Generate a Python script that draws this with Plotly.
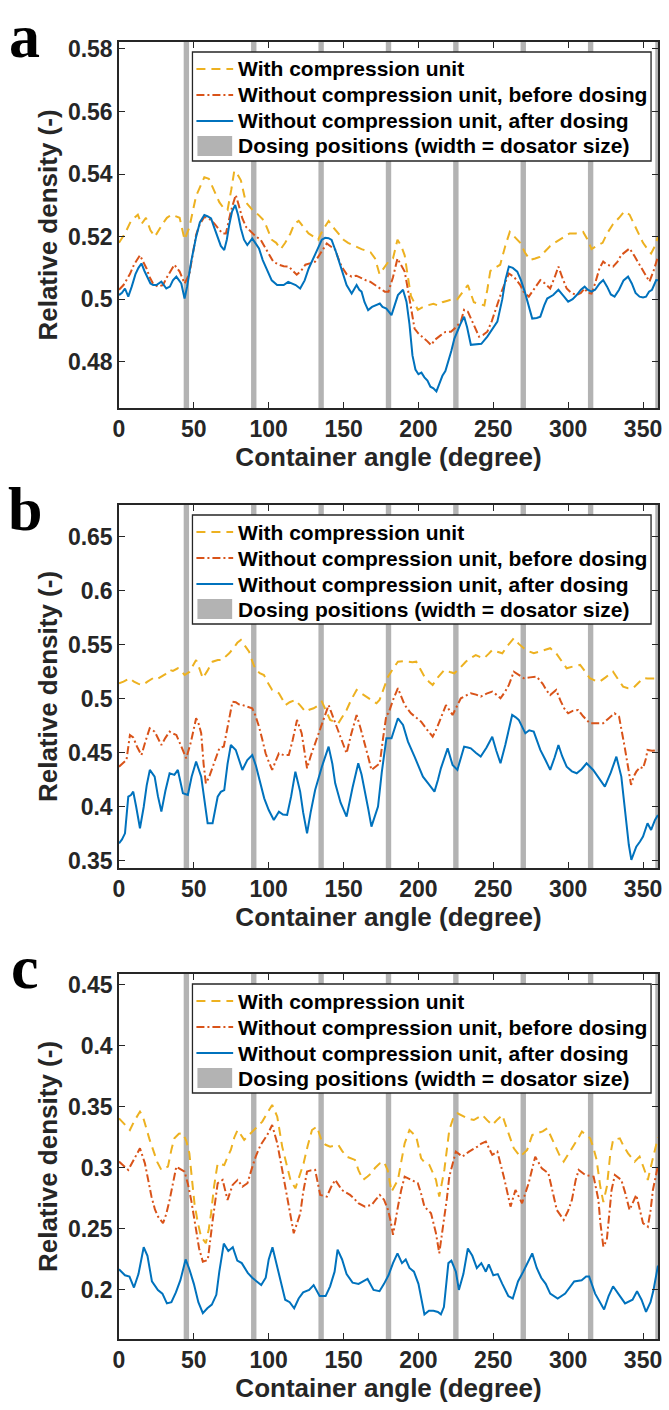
import plotly.graph_objects as go

# ---------------- data ----------------
DOSING_POSITIONS = [45, 90, 135, 180, 225, 270, 315, 360]
DOSATOR_WIDTH = 3.6  # degrees

SERIES_NAMES = ["With compression unit",
                "Without compression unit, before dosing",
                "Without compression unit, after dosing"]
BAND_NAME = "Dosing positions (width = dosator size)"
X_TICKS = [0, 50, 100, 150, 200, 250, 300, 350]
X_TITLE = "Container angle (degree)"
Y_TITLE = "Relative density (-)"
PANEL_LETTERS = ["a", "b", "c"]

A_Y_TICKS = [0.48, 0.5, 0.52, 0.54, 0.56, 0.58]
A_Y_LABELS = ["0.48", "0.5", "0.52", "0.54", "0.56", "0.58"]
B_Y_TICKS = [0.35, 0.4, 0.45, 0.5, 0.55, 0.6, 0.65]
B_Y_LABELS = ["0.35", "0.4", "0.45", "0.5", "0.55", "0.6", "0.65"]
C_Y_TICKS = [0.2, 0.25, 0.3, 0.35, 0.4, 0.45]
C_Y_LABELS = ["0.2", "0.25", "0.3", "0.35", "0.4", "0.45"]

# ---- panel a ----
A_ANG_WITH = [0, 4, 8, 12.6, 15, 18, 21, 24, 29, 32, 35, 40.5, 43.8, 47, 51.5, 54, 57, 60, 62.5, 67, 70, 72.5, 75, 77, 79, 81.4, 84.7, 90, 93, 97, 102, 105, 108, 111, 114.5, 117, 120, 123, 126.6, 130, 133, 136, 140, 143, 146.5, 150, 153, 157, 162, 165, 168, 171, 174, 177, 180, 183, 186, 188.5, 190.8, 193, 195, 199.6, 203, 206, 210, 213, 216, 219.5, 223, 226, 229, 233, 237, 240, 244, 246, 248, 251, 254.6, 258, 261, 264, 268, 271, 274.5, 278, 281, 284, 288, 291, 294.4, 298, 301, 305, 310, 313, 315.6, 319, 323, 326, 330, 334, 337.5, 341, 344, 347, 350, 353, 355.4, 358, 360]
A_VAL_WITH = [0.518, 0.521, 0.525, 0.527, 0.524, 0.526, 0.522, 0.520, 0.524, 0.526, 0.527, 0.526, 0.519, 0.523, 0.533, 0.536, 0.539, 0.5385, 0.536, 0.531, 0.529, 0.5285, 0.535, 0.541, 0.540, 0.538, 0.531, 0.528, 0.527, 0.525, 0.519, 0.518, 0.516, 0.518, 0.521, 0.524, 0.525, 0.523, 0.521, 0.520, 0.519, 0.522, 0.525, 0.523, 0.521, 0.519, 0.518, 0.517, 0.516, 0.5155, 0.515, 0.513, 0.508, 0.510, 0.512, 0.513, 0.519, 0.517, 0.514, 0.507, 0.501, 0.4966, 0.4975, 0.498, 0.4985, 0.498, 0.499, 0.4995, 0.500, 0.500, 0.502, 0.5045, 0.499, 0.4985, 0.498, 0.503, 0.509, 0.510, 0.511, 0.517, 0.5215, 0.520, 0.518, 0.515, 0.5125, 0.513, 0.5135, 0.515, 0.517, 0.518, 0.519, 0.520, 0.521, 0.521, 0.5215, 0.519, 0.516, 0.517, 0.518, 0.521, 0.524, 0.526, 0.528, 0.527, 0.524, 0.521, 0.518, 0.516, 0.5146, 0.517, 0.520]

A_ANG_BEFORE = [0, 3, 7.3, 10, 14, 16, 18.4, 20.5, 22.7, 26, 29.4, 32, 35, 37, 40.5, 43.8, 47, 49, 51.5, 54, 57, 59, 61.5, 64, 67, 69, 71.4, 73, 74.7, 76.5, 78, 80, 82.4, 85, 89, 91.5, 94.6, 97, 100, 103, 106.8, 110, 113.4, 116, 118.7, 121.5, 124.5, 128, 131, 135, 138.8, 141, 144.4, 146.5, 148.7, 152, 155.4, 158.5, 162, 165, 168, 170.9, 174, 177.5, 180, 183, 186, 188.5, 190.8, 193, 195, 197.4, 200, 204, 206, 208.4, 211, 215, 218, 221.7, 225, 228.3, 230.5, 233, 235, 238, 240.5, 243, 246, 249, 252.7, 256, 260.4, 264, 268, 270, 273.7, 277, 281.4, 284.5, 288, 291, 293.5, 296, 299, 302, 305.7, 308.5, 311, 313, 315.6, 318, 321, 323.4, 326, 330, 333, 335.5, 338, 341, 344, 347.7, 351, 354.3, 357, 360]
A_VAL_BEFORE = [0.503, 0.5045, 0.508, 0.511, 0.514, 0.512, 0.5098, 0.507, 0.505, 0.504, 0.5045, 0.507, 0.5095, 0.511, 0.5088, 0.505, 0.508, 0.514, 0.5206, 0.524, 0.5263, 0.526, 0.5253, 0.524, 0.5221, 0.521, 0.521, 0.525, 0.528, 0.531, 0.5333, 0.530, 0.5258, 0.523, 0.521, 0.520, 0.519, 0.517, 0.5142, 0.512, 0.511, 0.5105, 0.5104, 0.509, 0.5078, 0.509, 0.511, 0.5115, 0.512, 0.515, 0.5178, 0.517, 0.5158, 0.513, 0.5104, 0.508, 0.5072, 0.5075, 0.5066, 0.506, 0.5055, 0.5045, 0.5035, 0.5024, 0.5024, 0.507, 0.513, 0.511, 0.5088, 0.503, 0.497, 0.4906, 0.489, 0.4874, 0.4865, 0.4853, 0.487, 0.4885, 0.4895, 0.4896, 0.491, 0.4928, 0.4966, 0.496, 0.4939, 0.491, 0.488, 0.4885, 0.4896, 0.493, 0.4982, 0.503, 0.5082, 0.507, 0.5045, 0.5025, 0.5008, 0.503, 0.5061, 0.505, 0.5034, 0.507, 0.5104, 0.507, 0.5034, 0.502, 0.5013, 0.502, 0.5034, 0.502, 0.5018, 0.505, 0.510, 0.512, 0.511, 0.5104, 0.512, 0.5141, 0.515, 0.5162, 0.514, 0.511, 0.508, 0.5056, 0.509, 0.5136]

A_ANG_AFTER = [0, 2, 4, 6.2, 8.5, 11, 13, 15, 17, 19, 21, 22.8, 25, 28.3, 31.6, 34, 36, 38.3, 40, 41.6, 43.8, 45.5, 48.2, 51.5, 54, 57, 59, 61.5, 63.5, 65.8, 68, 70.3, 72, 73.6, 75.5, 77.6, 79.5, 81.4, 83.5, 85.7, 89, 91, 93.5, 96, 99, 102, 105.6, 108, 110, 113, 115.6, 118, 121, 124, 126.7, 130, 133.3, 135.5, 137.7, 140, 142, 145, 147.7, 150, 152, 155.4, 158.7, 160.5, 162, 164, 166.4, 169, 171.5, 174.2, 176, 178.6, 182, 184, 186.3, 189.7, 192, 194, 196, 198, 200, 202, 204, 206, 208, 210, 212, 214, 216, 218, 220, 222, 224, 226, 228, 230.5, 232.5, 235, 238, 242, 246, 249, 252.7, 256, 258, 260.4, 263, 266, 268.5, 271, 273.5, 276, 279, 281.4, 284, 286, 290, 293.5, 297, 300, 303, 305.7, 308.5, 311, 313, 315.6, 318, 321, 323.4, 326, 328.5, 331, 334, 337, 340, 342.5, 345, 347.7, 350, 352, 354, 356, 358.8, 360]
A_VAL_AFTER = [0.5013, 0.502, 0.5034, 0.5008, 0.504, 0.508, 0.510, 0.5114, 0.509, 0.507, 0.505, 0.5045, 0.5045, 0.5056, 0.5034, 0.504, 0.506, 0.5072, 0.506, 0.505, 0.5002, 0.504, 0.512, 0.5199, 0.5245, 0.5269, 0.5265, 0.5258, 0.523, 0.5199, 0.517, 0.5157, 0.519, 0.5237, 0.528, 0.5301, 0.527, 0.5226, 0.519, 0.5173, 0.5194, 0.518, 0.5162, 0.5125, 0.5093, 0.506, 0.5045, 0.5045, 0.5045, 0.5055, 0.505, 0.5045, 0.5034, 0.506, 0.5098, 0.513, 0.5167, 0.519, 0.5196, 0.5195, 0.5189, 0.515, 0.5109, 0.507, 0.5045, 0.5018, 0.5045, 0.503, 0.5024, 0.499, 0.4965, 0.4975, 0.498, 0.4986, 0.4975, 0.497, 0.4949, 0.498, 0.5013, 0.503, 0.4992, 0.492, 0.482, 0.4775, 0.476, 0.4765, 0.475, 0.474, 0.472, 0.4715, 0.4705, 0.473, 0.4755, 0.477, 0.480, 0.4835, 0.4874, 0.490, 0.492, 0.4944, 0.491, 0.4854, 0.4855, 0.4857, 0.488, 0.490, 0.4928, 0.500, 0.506, 0.5104, 0.510, 0.5088, 0.506, 0.5024, 0.498, 0.4938, 0.494, 0.4944, 0.498, 0.5002, 0.5013, 0.503, 0.501, 0.4992, 0.500, 0.5013, 0.503, 0.504, 0.503, 0.5024, 0.503, 0.505, 0.5061, 0.504, 0.5015, 0.5008, 0.503, 0.506, 0.5072, 0.505, 0.502, 0.5008, 0.5005, 0.5008, 0.5024, 0.503, 0.5061, 0.506]

# ---- panel b ----
B_ANG_WITH = [0, 3, 7.3, 10, 13, 16, 19, 22.7, 25, 28.3, 31, 33.8, 36, 39.3, 41.5, 43.8, 47, 49, 51.5, 53.5, 56, 59, 62.5, 66, 69, 71, 73.6, 77, 79, 81.4, 84, 86.9, 89, 91.3, 94, 96.8, 99, 102.3, 104.5, 106.8, 109, 111.2, 114, 117.8, 121, 124.5, 127, 130, 133, 135.5, 138, 141, 143.5, 146.5, 149, 152, 155, 158.7, 162, 165.3, 168.5, 172, 174, 177.5, 179.7, 183, 186.3, 190, 193, 196, 198.5, 201, 204, 207, 209.5, 213, 217.3, 221, 224, 228, 231.6, 235, 238.3, 241, 243.8, 247, 249.3, 252, 256, 260, 263.7, 267, 270.4, 274, 277, 281, 285, 288, 292, 295, 299, 303, 308, 311, 314.5, 318, 321, 325, 330, 333, 336.7, 340, 343.3, 347, 350, 353, 356.5, 360]
B_VAL_WITH = [0.5145, 0.516, 0.5192, 0.516, 0.514, 0.513, 0.516, 0.5192, 0.518, 0.5207, 0.523, 0.5269, 0.526, 0.5284, 0.526, 0.5222, 0.525, 0.530, 0.5361, 0.529, 0.5192, 0.526, 0.5345, 0.536, 0.5361, 0.539, 0.5423, 0.548, 0.552, 0.5546, 0.550, 0.5438, 0.535, 0.5269, 0.524, 0.5222, 0.516, 0.5083, 0.507, 0.5053, 0.500, 0.4944, 0.497, 0.4991, 0.494, 0.4882, 0.490, 0.4914, 0.494, 0.4975, 0.490, 0.4806, 0.479, 0.4775, 0.483, 0.4898, 0.499, 0.5083, 0.505, 0.5022, 0.499, 0.496, 0.499, 0.5114, 0.5207, 0.528, 0.5345, 0.535, 0.5345, 0.534, 0.5345, 0.528, 0.5207, 0.516, 0.513, 0.520, 0.5269, 0.525, 0.5238, 0.529, 0.5345, 0.538, 0.5407, 0.539, 0.5377, 0.542, 0.5454, 0.544, 0.5423, 0.550, 0.5562, 0.551, 0.547, 0.544, 0.5423, 0.544, 0.546, 0.547, 0.5423, 0.536, 0.5284, 0.530, 0.5315, 0.526, 0.5192, 0.517, 0.516, 0.520, 0.5253, 0.519, 0.5114, 0.510, 0.5099, 0.515, 0.5192, 0.519, 0.5192, 0.519]

B_ANG_BEFORE = [0, 2.5, 5, 7.3, 9.5, 12, 15, 17.5, 20.5, 23.8, 26, 28.3, 31, 33.8, 36, 38.3, 41, 44.9, 48, 51.5, 53, 54.9, 56.5, 58, 60, 63.7, 67, 70, 72.5, 75.8, 78, 80, 82.4, 85.5, 89, 91, 93.5, 95.8, 97.9, 100, 102.3, 104.5, 106.8, 110, 113.4, 116, 118.9, 122, 124, 125.6, 128, 131, 135.5, 140, 142.5, 145.4, 148.5, 152, 155, 158.7, 161.5, 164.2, 166.5, 168.6, 171, 174.2, 176.5, 178.6, 180, 183, 186.3, 188.5, 190.8, 195, 198.5, 201.8, 205.5, 209.5, 212, 214, 218.4, 222.8, 225.5, 228.3, 231.5, 235, 238.5, 241.6, 245.5, 249.3, 252, 254.8, 258, 260.4, 263.7, 267, 270.4, 274.5, 279, 283, 285.5, 288, 292, 295, 297.5, 300, 303, 306.7, 310, 314.5, 319, 323.4, 327, 331, 334, 336, 337.7, 340, 342, 343.7, 345.5, 348, 350, 352, 353, 356, 360]
B_VAL_BEFORE = [0.4373, 0.440, 0.4435, 0.4667, 0.4645, 0.456, 0.4481, 0.460, 0.4729, 0.4698, 0.463, 0.4574, 0.464, 0.4698, 0.468, 0.4667, 0.458, 0.4451, 0.460, 0.4821, 0.478, 0.4683, 0.440, 0.4219, 0.427, 0.4405, 0.4543, 0.456, 0.475, 0.4975, 0.497, 0.495, 0.4944, 0.493, 0.4914, 0.485, 0.4744, 0.462, 0.4497, 0.442, 0.4343, 0.442, 0.4497, 0.448, 0.4481, 0.462, 0.4806, 0.4683, 0.448, 0.4358, 0.447, 0.459, 0.4775, 0.4944, 0.485, 0.4744, 0.462, 0.4497, 0.467, 0.4852, 0.472, 0.459, 0.446, 0.4343, 0.437, 0.4405, 0.465, 0.4852, 0.4867, 0.499, 0.510, 0.502, 0.4944, 0.4867, 0.483, 0.479, 0.472, 0.4651, 0.472, 0.479, 0.4944, 0.4852, 0.493, 0.5006, 0.503, 0.5053, 0.504, 0.5022, 0.505, 0.5068, 0.504, 0.5006, 0.507, 0.513, 0.5253, 0.522, 0.5192, 0.520, 0.5207, 0.514, 0.508, 0.5037, 0.5083, 0.498, 0.491, 0.4867, 0.489, 0.4898, 0.484, 0.4775, 0.4775, 0.4775, 0.482, 0.4867, 0.4836, 0.470, 0.4559, 0.437, 0.4204, 0.428, 0.4327, 0.437, 0.4358, 0.445, 0.4528, 0.452, 0.4528]

B_ANG_AFTER = [0, 2, 4, 6.2, 8, 9.5, 11.5, 14, 16.5, 18.5, 20.6, 23.8, 26, 28.3, 31, 33.8, 37, 39.3, 42.7, 46, 48.5, 51.5, 54.9, 57, 59.2, 62.5, 65.9, 68, 70.3, 72.5, 74.7, 78, 80.5, 82.4, 85.7, 89, 91.5, 94.6, 97, 100, 103.4, 106.8, 109.5, 112.3, 115, 117.8, 121, 123, 125.6, 128, 131, 135.5, 140, 142.5, 144.4, 148, 152, 156, 159.8, 162, 164.2, 166.5, 168.6, 170.5, 173, 175.5, 178.6, 182, 184, 186.3, 189.7, 193, 197.4, 200, 203, 207, 210.7, 213, 215, 219.5, 222.8, 226, 230.5, 233, 235, 238.5, 241.6, 245.5, 249.3, 252, 254.8, 258, 262.6, 265, 267, 271.4, 274, 277, 281.4, 285, 288, 291, 293.5, 296, 299, 302.5, 305.7, 309, 312.3, 316.7, 320.5, 324.5, 328.5, 332.2, 335.5, 338.8, 340.5, 342.2, 344, 345.5, 348, 350, 353, 355.4, 358, 360]
B_VAL_AFTER = [0.3664, 0.370, 0.3756, 0.4095, 0.411, 0.4142, 0.400, 0.3803, 0.400, 0.420, 0.4343, 0.4281, 0.410, 0.3957, 0.415, 0.4312, 0.4297, 0.4343, 0.4127, 0.4111, 0.428, 0.442, 0.4281, 0.405, 0.3849, 0.3849, 0.4095, 0.414, 0.4157, 0.440, 0.4574, 0.4528, 0.442, 0.4343, 0.4435, 0.4481, 0.438, 0.4219, 0.408, 0.3972, 0.388, 0.3957, 0.393, 0.3926, 0.410, 0.4327, 0.4142, 0.395, 0.3756, 0.395, 0.4157, 0.4373, 0.4559, 0.440, 0.4219, 0.404, 0.3911, 0.418, 0.4405, 0.430, 0.4157, 0.398, 0.3818, 0.390, 0.4003, 0.432, 0.4636, 0.4636, 0.472, 0.4821, 0.4759, 0.4605, 0.4466, 0.438, 0.4281, 0.421, 0.4142, 0.425, 0.4358, 0.4543, 0.4389, 0.4343, 0.4559, 0.455, 0.4543, 0.450, 0.4466, 0.455, 0.4651, 0.452, 0.4405, 0.4574, 0.4852, 0.483, 0.4806, 0.4682, 0.471, 0.4698, 0.4528, 0.443, 0.4343, 0.446, 0.4574, 0.447, 0.4373, 0.433, 0.4312, 0.435, 0.4405, 0.4343, 0.427, 0.4188, 0.432, 0.4466, 0.4281, 0.388, 0.365, 0.351, 0.358, 0.3633, 0.368, 0.3726, 0.3849, 0.3787, 0.388, 0.3926]

# ---- panel c ----
C_ANG_WITH = [0, 3, 7.3, 10, 14, 16, 18.4, 20.5, 22.8, 25.5, 28.3, 32.7, 35, 37, 40, 42.7, 45, 47, 48.8, 50.4, 52.5, 54.8, 58, 60, 61.5, 63.5, 65.9, 70.3, 72.5, 74.7, 77, 79.2, 81.5, 83.6, 86, 89, 92, 95.7, 99, 102.3, 104, 105.7, 109, 112, 114.5, 117.8, 120.5, 123.3, 126, 128.9, 132.2, 135.5, 138, 141, 146.5, 149, 152, 157.6, 160, 163, 166, 168.6, 171, 174.2, 177, 179.5, 182, 186.3, 188.5, 190.8, 194, 198.5, 201.8, 204.5, 207.3, 211.7, 213.9, 217.3, 220.6, 223, 226.1, 229, 232.8, 237, 242.7, 246, 249.3, 253, 256, 258, 260.4, 263.7, 268, 272.6, 276, 280, 283, 286, 291.4, 294, 297, 300, 303.7, 306.5, 309.2, 312, 314.7, 317, 319, 321.4, 323.5, 325.9, 328, 330, 334.5, 337, 340, 344.4, 347.7, 350.5, 353.2, 356, 359, 360]
C_VAL_WITH = [0.3407, 0.337, 0.3311, 0.338, 0.3462, 0.342, 0.3311, 0.323, 0.3148, 0.305, 0.2984, 0.3011, 0.315, 0.3243, 0.328, 0.3284, 0.322, 0.312, 0.290, 0.271, 0.256, 0.2437, 0.2383, 0.250, 0.2629, 0.285, 0.3038, 0.3024, 0.309, 0.3148, 0.325, 0.3311, 0.327, 0.323, 0.326, 0.3298, 0.333, 0.338, 0.345, 0.3516, 0.347, 0.342, 0.3175, 0.303, 0.2902, 0.2833, 0.293, 0.3038, 0.318, 0.3311, 0.3339, 0.3216, 0.319, 0.3175, 0.3189, 0.314, 0.3093, 0.3066, 0.298, 0.2902, 0.293, 0.2957, 0.300, 0.3038, 0.305, 0.298, 0.2806, 0.2902, 0.305, 0.3202, 0.3311, 0.3257, 0.3079, 0.304, 0.3025, 0.2902, 0.2765, 0.2984, 0.3311, 0.340, 0.3448, 0.343, 0.3407, 0.3393, 0.3434, 0.339, 0.3352, 0.340, 0.3434, 0.336, 0.327, 0.3161, 0.3093, 0.3148, 0.327, 0.3284, 0.330, 0.3325, 0.3189, 0.311, 0.3052, 0.311, 0.3175, 0.324, 0.3298, 0.327, 0.3243, 0.316, 0.3066, 0.285, 0.272, 0.285, 0.310, 0.323, 0.3243, 0.318, 0.312, 0.3052, 0.3093, 0.300, 0.2902, 0.305, 0.3202, 0.325]

C_ANG_BEFORE = [0, 3, 6.2, 10, 14, 17.3, 19.5, 21.7, 24, 26.1, 29.4, 31.5, 33.8, 36, 38.3, 41, 43.8, 46, 48.2, 51.5, 53.5, 56, 59.3, 62.6, 65.9, 69.2, 72.5, 75.9, 79.2, 82.5, 85.8, 89.1, 91.5, 94.6, 99, 102.3, 105.7, 109, 113.4, 116.7, 121.1, 123, 125.6, 128, 131, 134.4, 138.8, 141.5, 144.4, 148.8, 151.5, 154.3, 157, 159.8, 164.3, 168.7, 171.5, 174.2, 177, 179.7, 181.5, 183, 186.3, 188.5, 190.8, 195.2, 199.6, 202, 204, 208.4, 210, 211.7, 213.9, 215.5, 217.3, 219, 220.6, 223, 225, 229.4, 233.8, 239.4, 242, 245, 249.3, 252.7, 257, 261.5, 264.8, 269.2, 271.5, 273.6, 278, 282.4, 286.8, 289.5, 292.4, 297, 300, 302.5, 305, 307, 311.4, 317, 320.2, 321.5, 323.5, 325.8, 327.5, 329, 331.2, 335.5, 338, 341, 345.5, 348, 350, 353.2, 355, 356.6, 359, 360]
C_VAL_BEFORE = [0.3052, 0.302, 0.2984, 0.307, 0.3161, 0.3038, 0.290, 0.2765, 0.266, 0.2601, 0.2547, 0.262, 0.2738, 0.288, 0.3011, 0.299, 0.297, 0.287, 0.2738, 0.2492, 0.234, 0.2232, 0.2246, 0.2574, 0.2875, 0.2902, 0.2738, 0.2861, 0.2902, 0.2847, 0.2875, 0.3011, 0.310, 0.3189, 0.327, 0.3352, 0.3202, 0.2984, 0.2683, 0.2465, 0.2629, 0.280, 0.297, 0.298, 0.2984, 0.2779, 0.2765, 0.284, 0.2902, 0.282, 0.280, 0.2779, 0.275, 0.2711, 0.2683, 0.2697, 0.274, 0.2779, 0.274, 0.2656, 0.256, 0.2451, 0.2683, 0.282, 0.2929, 0.2902, 0.2875, 0.278, 0.2683, 0.2629, 0.255, 0.2465, 0.2301, 0.243, 0.2574, 0.275, 0.2929, 0.305, 0.3134, 0.3093, 0.3134, 0.3175, 0.320, 0.3216, 0.3107, 0.3134, 0.2929, 0.2683, 0.282, 0.2711, 0.280, 0.2875, 0.3093, 0.2997, 0.2957, 0.280, 0.2656, 0.2574, 0.265, 0.2738, 0.290, 0.2984, 0.2943, 0.2929, 0.2738, 0.255, 0.2355, 0.241, 0.265, 0.282, 0.2943, 0.2902, 0.280, 0.2656, 0.2779, 0.266, 0.2547, 0.2519, 0.265, 0.282, 0.2984, 0.302]

C_ANG_AFTER = [0, 4, 7, 10, 13, 16.5, 19, 22, 26, 29, 32, 35, 38, 41, 44.5, 47, 50, 53, 56, 59, 62, 65, 67, 70, 73, 76, 79, 82, 86, 89, 92, 95, 98, 100, 102.5, 105, 108, 111, 114, 117, 120, 123, 127, 130, 134, 138, 141, 144, 146, 149, 152, 156, 160, 164, 166, 170, 174, 177, 180, 183, 186, 189, 191.5, 194, 197, 200, 204, 207, 210, 213, 215, 217, 220, 222, 225, 227, 230, 233, 236, 239, 242, 245, 247, 250, 253, 256, 260, 263, 266.5, 270, 273, 276, 279, 282, 285, 288, 293, 298, 304, 309, 312, 314, 318, 321, 324, 327, 330, 334, 338, 343, 346, 349, 352, 355, 357, 360]
C_VAL_AFTER = [0.217, 0.212, 0.211, 0.202, 0.213, 0.235, 0.228, 0.207, 0.200, 0.197, 0.189, 0.190, 0.198, 0.208, 0.225, 0.217, 0.205, 0.190, 0.181, 0.185, 0.188, 0.196, 0.215, 0.238, 0.232, 0.235, 0.224, 0.222, 0.214, 0.210, 0.207, 0.204, 0.210, 0.225, 0.235, 0.222, 0.205, 0.192, 0.190, 0.185, 0.193, 0.198, 0.200, 0.204, 0.195, 0.195, 0.203, 0.215, 0.233, 0.225, 0.213, 0.206, 0.205, 0.208, 0.209, 0.200, 0.199, 0.205, 0.212, 0.222, 0.230, 0.222, 0.225, 0.218, 0.215, 0.205, 0.180, 0.183, 0.183, 0.182, 0.180, 0.186, 0.222, 0.224, 0.215, 0.200, 0.213, 0.234, 0.228, 0.218, 0.222, 0.215, 0.221, 0.212, 0.213, 0.205, 0.195, 0.193, 0.207, 0.215, 0.222, 0.230, 0.218, 0.210, 0.205, 0.197, 0.193, 0.197, 0.207, 0.208, 0.211, 0.211, 0.197, 0.190, 0.184, 0.195, 0.203, 0.196, 0.189, 0.192, 0.199, 0.192, 0.182, 0.190, 0.200, 0.220]

PANELS = [
    dict(ang=[A_ANG_WITH, A_ANG_BEFORE, A_ANG_AFTER], val=[A_VAL_WITH, A_VAL_BEFORE, A_VAL_AFTER],
         yrange=[0.4652, 0.5822], yticks=A_Y_TICKS, ylabels=A_Y_LABELS),
    dict(ang=[B_ANG_WITH, B_ANG_BEFORE, B_ANG_AFTER], val=[B_VAL_WITH, B_VAL_BEFORE, B_VAL_AFTER],
         yrange=[0.3435, 0.6796], yticks=B_Y_TICKS, ylabels=B_Y_LABELS),
    dict(ang=[C_ANG_WITH, C_ANG_BEFORE, C_ANG_AFTER], val=[C_VAL_WITH, C_VAL_BEFORE, C_VAL_AFTER],
         yrange=[0.1598, 0.459], yticks=C_Y_TICKS, ylabels=C_Y_LABELS),
]

# ---------------- styling / layout ----------------
W, H = 669, 1410
ML, MR, MT, MB = 119, 7, 42, 71
PW = W - ML - MR
PH = H - MT - MB
PANEL_TOP_PX = [42, 505, 974]
PANEL_BOT_PX = [408, 868, 1339]
LETTER_Y_PX = [36, 509, 967]

COLORS = ["#EDB120", "#D95319", "#0072BD"]
DASHES = ["9px,6px", "8px,3px,2px,3px", "solid"]
BAND_COLOR = "#b3b3b3"
AXIS_COLOR = "#262626"
FONT = "Liberation Sans, Arial, Helvetica, sans-serif"


def px_x(px):
    return (px - ML) / PW


def px_y(py):
    return (H - MB - py) / PH


fig = go.Figure()
shapes = []
annotations = []

for i, p in enumerate(PANELS):
    sfx = "" if i == 0 else str(i + 1)
    xref, yref = "x" + sfx, "y" + sfx
    for k in range(3):
        fig.add_trace(go.Scatter(
            x=p["ang"][k], y=p["val"][k], mode="lines", name=SERIES_NAMES[k],
            xaxis=xref, yaxis=yref, showlegend=False,
            line=dict(color=COLORS[k], width=2, dash=DASHES[k])))

    # dosing bands
    for d in DOSING_POSITIONS:
        shapes.append(dict(type="rect", xref=xref, yref=yref + " domain",
                           x0=d - DOSATOR_WIDTH / 2, x1=d + DOSATOR_WIDTH / 2, y0=0, y1=1,
                           fillcolor=BAND_COLOR, line=dict(width=0), layer="below"))

    dom = [px_y(PANEL_BOT_PX[i]), px_y(PANEL_TOP_PX[i])]
    fig.layout["xaxis" + sfx] = dict(
        domain=[0, 1], anchor=yref, range=[0, 360], tickvals=X_TICKS,
        ticks="inside", ticklen=6, tickwidth=1.3, tickcolor=AXIS_COLOR,
        showline=True, linecolor=AXIS_COLOR, linewidth=1.5, mirror="ticks",
        showgrid=False, zeroline=False,
        tickfont=dict(family=FONT, size=23, color=AXIS_COLOR, weight="bold"),
        title=dict(text=X_TITLE, standoff=5,
                   font=dict(family=FONT, size=26, color=AXIS_COLOR, weight="bold")))
    fig.layout["yaxis" + sfx] = dict(
        domain=dom, anchor=xref, range=p["yrange"], tickvals=p["yticks"], ticktext=p["ylabels"],
        ticks="inside", ticklen=6, tickwidth=1.3, tickcolor=AXIS_COLOR,
        showline=True, linecolor=AXIS_COLOR, linewidth=1.5, mirror="ticks",
        showgrid=False, zeroline=False,
        tickfont=dict(family=FONT, size=23, color=AXIS_COLOR, weight="bold"),
        title=dict(text=Y_TITLE, standoff=3,
                   font=dict(family=FONT, size=26, color=AXIS_COLOR, weight="bold")))

    # legend box (drawn manually to match the MATLAB look)
    top = PANEL_TOP_PX[i]
    lb_l, lb_r, lb_t, lb_b = 193, 655, top + 10, top + 119
    shapes.append(dict(type="rect", xref="paper", yref="paper",
                       x0=px_x(lb_l), x1=px_x(lb_r), y0=px_y(lb_b), y1=px_y(lb_t),
                       fillcolor="white", line=dict(color=AXIS_COLOR, width=1.3), layer="above"))
    rows = [top + 27, top + 53, top + 79, top + 104]
    for k in range(3):
        shapes.append(dict(type="line", xref="paper", yref="paper",
                           x0=px_x(197), x1=px_x(234), y0=px_y(rows[k]), y1=px_y(rows[k]),
                           line=dict(color=COLORS[k], width=2, dash=DASHES[k]), layer="above"))
    shapes.append(dict(type="rect", xref="paper", yref="paper",
                       x0=px_x(198), x1=px_x(233), y0=px_y(rows[3] + 10), y1=px_y(rows[3] - 10),
                       fillcolor=BAND_COLOR, line=dict(width=0), layer="above"))
    for k, txt in enumerate(SERIES_NAMES + [BAND_NAME]):
        annotations.append(dict(xref="paper", yref="paper", x=px_x(237), y=px_y(rows[k]),
                                xanchor="left", yanchor="middle", showarrow=False, text=txt,
                                font=dict(family=FONT, size=21, color="black", weight="bold")))

    # panel letter
    annotations.append(dict(xref="paper", yref="paper", x=px_x(24), y=px_y(LETTER_Y_PX[i]),
                            xanchor="center", yanchor="middle", showarrow=False,
                            text=PANEL_LETTERS[i],
                            font=dict(family="Liberation Serif, Times New Roman, serif", size=62,
                                      color="black", weight="bold")))

fig.update_layout(
    width=W, height=H, margin=dict(l=ML, r=MR, t=MT, b=MB),
    paper_bgcolor="white", plot_bgcolor="white", showlegend=False,
    shapes=shapes, annotations=annotations,
    font=dict(family=FONT, color=AXIS_COLOR))

fig.write_html("out.html", config={"displayModeBar": False},
               post_script="document.body.style.margin='0px';document.body.style.overflow='hidden';")
